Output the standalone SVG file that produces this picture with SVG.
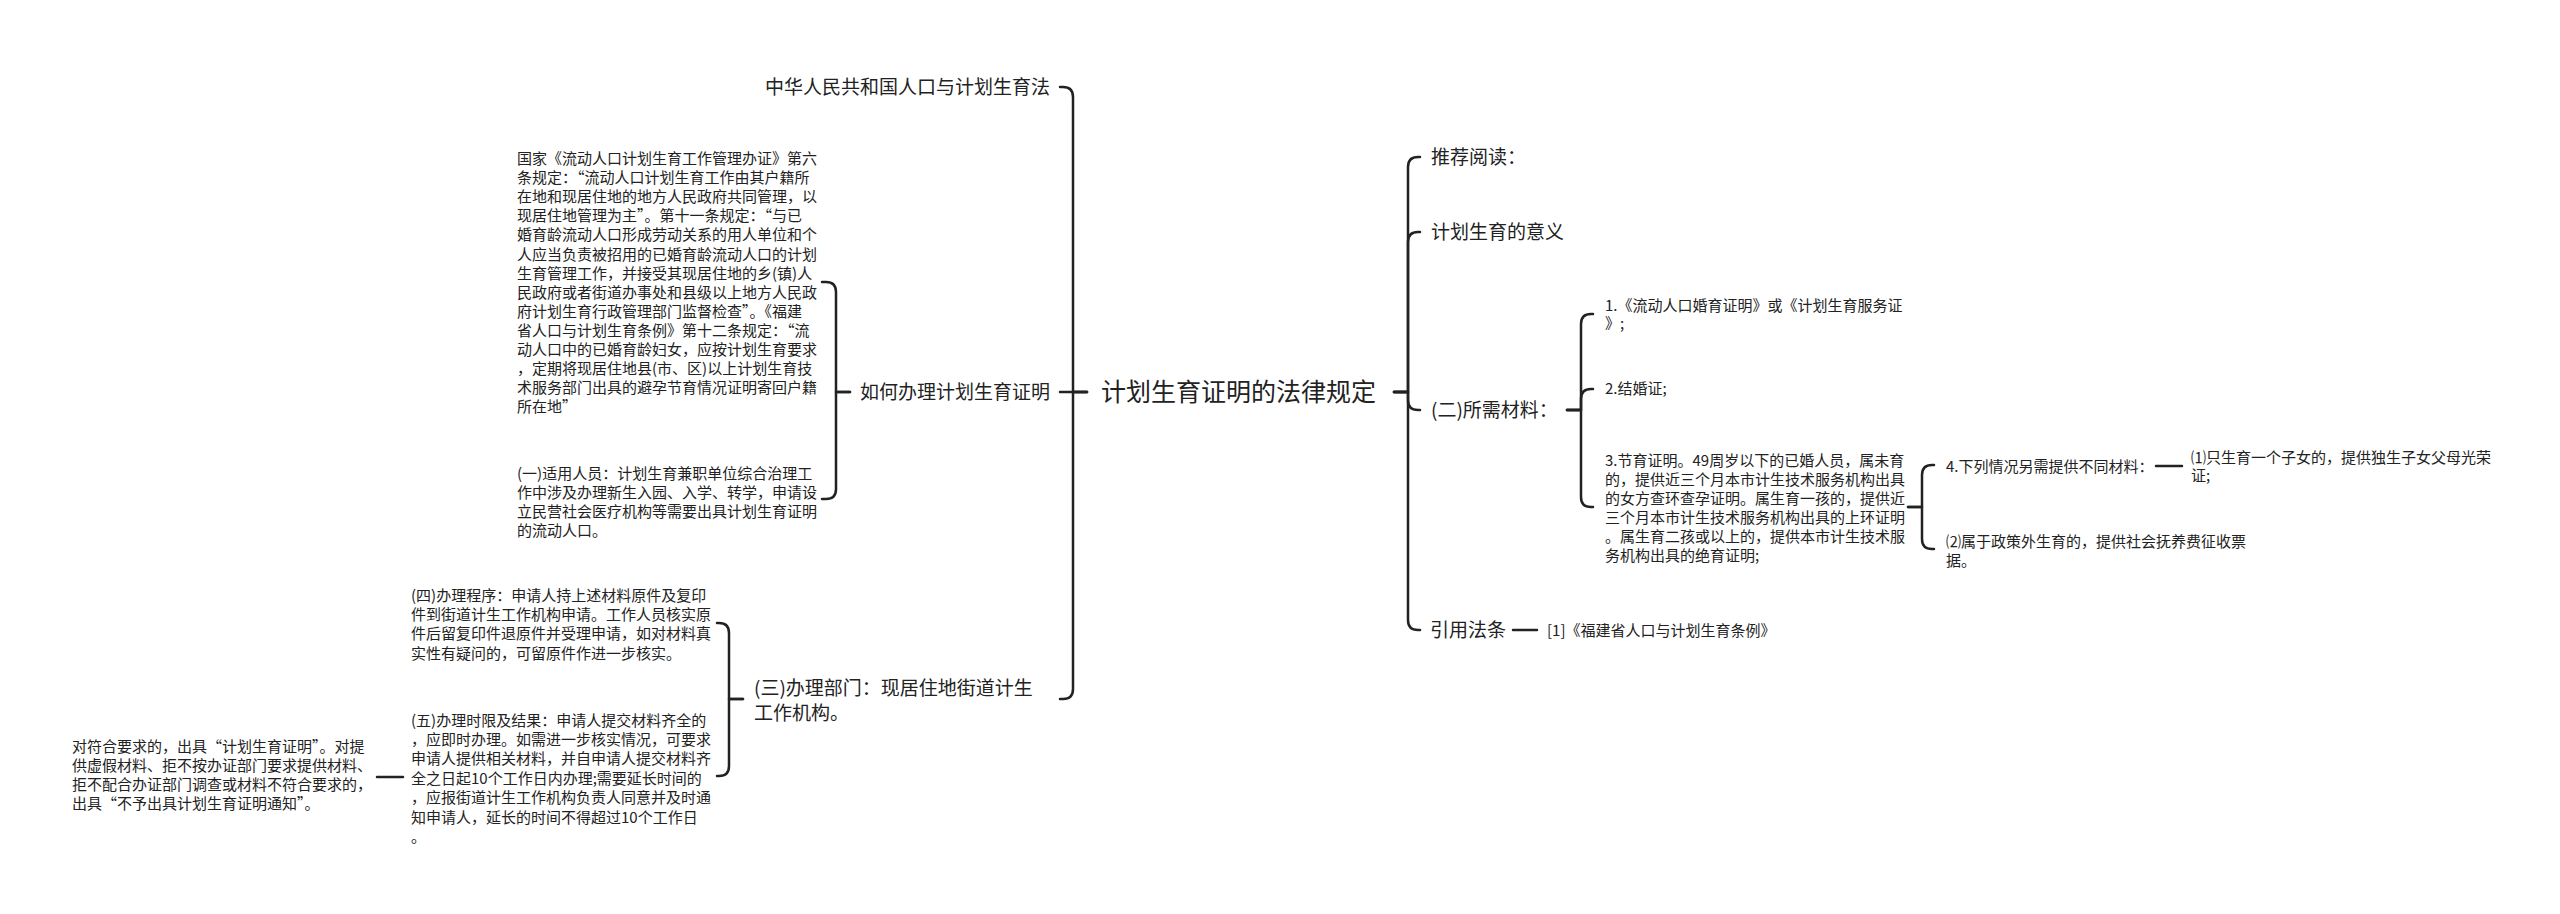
<svg xmlns="http://www.w3.org/2000/svg" width="2560" height="914" viewBox="0 0 2560 914">
<style>
text{font-family:"Noto Sans CJK SC","Noto Sans",sans-serif;fill:#222}
.s{font-size:15px}
.m{font-size:19px}
.r{font-size:25px}
.c{fill:none;stroke:#222;stroke-width:2.5;stroke-linecap:round;stroke-linejoin:round}
</style>
<rect width="2560" height="914" fill="#fff"/>
<g id="connectors" class="c">
<path d="M1087 392 H1073 V97 Q1073 87 1063 87 H1060"/>
<path d="M1087 392 H1060"/>
<path d="M1087 392 H1073 V689 Q1073 699 1063 699 H1060"/>
<path d="M1394 392 H1408 V167 Q1408 157 1418 157 H1420"/>
<path d="M1394 392 H1408 V242 Q1408 232 1418 232 H1420"/>
<path d="M1394 392 H1408 V400 Q1408 410 1418 410 H1420"/>
<path d="M1394 392 H1408 V620 Q1408 630 1418 630 H1420"/>
<path d="M850 392 H836 V292 Q836 282 826 282 H822"/>
<path d="M850 392 H836 V489 Q836 499 826 499 H822"/>
<path d="M743 699 H729 V633 Q729 623 719 623 H717"/>
<path d="M743 699 H729 V766 Q729 776 719 776 H717"/>
<path d="M403 777 H377"/>
<path d="M1567 410 H1581 V324 Q1581 314 1591 314 H1593"/>
<path d="M1567 410 H1581 V399 Q1581 389 1591 389 H1593"/>
<path d="M1567 410 H1581 V497 Q1581 507 1591 507 H1593"/>
<path d="M1908 507 H1922 V475 Q1922 465 1932 465 H1934"/>
<path d="M1908 507 H1922 V539 Q1922 549 1932 549 H1934"/>
<path d="M2156 466 H2182"/>
<path d="M1513 630 H1537"/>
</g>
<g id="root"><text class="r" x="1101" y="401">计划生育证明的法律规定</text></g>
<g id="n-law"><text class="m" x="1050" y="94" text-anchor="end">中华人民共和国人口与计划生育法</text></g>
<g id="n-how"><text class="m" x="1050" y="399" text-anchor="end">如何办理计划生育证明</text></g>
<g id="n-how-1"><text class="s" x="517" y="164">
<tspan x="517">国家《流动人口计划生育工作管理办证》第六</tspan>
<tspan x="517" dy="19.1">条规定：“流动人口计划生育工作由其户籍所</tspan>
<tspan x="517" dy="19.1">在地和现居住地的地方人民政府共同管理，以</tspan>
<tspan x="517" dy="19.1">现居住地管理为主”。第十一条规定：“与已</tspan>
<tspan x="517" dy="19.1">婚育龄流动人口形成劳动关系的用人单位和个</tspan>
<tspan x="517" dy="19.1">人应当负责被招用的已婚育龄流动人口的计划</tspan>
<tspan x="517" dy="19.1">生育管理工作，并接受其现居住地的乡(镇)人</tspan>
<tspan x="517" dy="19.1">民政府或者街道办事处和县级以上地方人民政</tspan>
<tspan x="517" dy="19.1">府计划生育行政管理部门监督检查”。《福建</tspan>
<tspan x="517" dy="19.1">省人口与计划生育条例》第十二条规定：“流</tspan>
<tspan x="517" dy="19.1">动人口中的已婚育龄妇女，应按计划生育要求</tspan>
<tspan x="517" dy="19.1">，定期将现居住地县(市、区)以上计划生育技</tspan>
<tspan x="517" dy="19.1">术服务部门出具的避孕节育情况证明寄回户籍</tspan>
<tspan x="517" dy="19.1">所在地”</tspan>
</text></g>
<g id="n-how-2"><text class="s" x="517" y="479">
<tspan x="517">(一)适用人员：计划生育兼职单位综合治理工</tspan>
<tspan x="517" dy="19">作中涉及办理新生入园、入学、转学，申请设</tspan>
<tspan x="517" dy="19">立民营社会医疗机构等需要出具计划生育证明</tspan>
<tspan x="517" dy="19">的流动人口。</tspan>
</text></g>
<g id="n-dept"><text class="m" x="754" y="695">
<tspan x="754">(三)办理部门：现居住地街道计生</tspan>
<tspan x="754" dy="25">工作机构。</tspan>
</text></g>
<g id="n-dept-1"><text class="s" x="411" y="600.5">
<tspan x="411">(四)办理程序：申请人持上述材料原件及复印</tspan>
<tspan x="411" dy="19.4">件到街道计生工作机构申请。工作人员核实原</tspan>
<tspan x="411" dy="19.4">件后留复印件退原件并受理申请，如对材料真</tspan>
<tspan x="411" dy="19.4">实性有疑问的，可留原件作进一步核实。</tspan>
</text></g>
<g id="n-dept-2"><text class="s" x="411" y="725.5">
<tspan x="411">(五)办理时限及结果：申请人提交材料齐全的</tspan>
<tspan x="411" dy="19.45">，应即时办理。如需进一步核实情况，可要求</tspan>
<tspan x="411" dy="19.45">申请人提供相关材料，并自申请人提交材料齐</tspan>
<tspan x="411" dy="19.45">全之日起10个工作日内办理;需要延长时间的</tspan>
<tspan x="411" dy="19.45">，应报街道计生工作机构负责人同意并及时通</tspan>
<tspan x="411" dy="19.45">知申请人，延长的时间不得超过10个工作日</tspan>
<tspan x="411" dy="19.45">。</tspan>
</text></g>
<g id="n-result"><text class="s" x="72" y="751.5">
<tspan x="72">对符合要求的，出具“计划生育证明”。对提</tspan>
<tspan x="72" dy="19.2">供虚假材料、拒不按办证部门要求提供材料、</tspan>
<tspan x="72" dy="19.2">拒不配合办证部门调查或材料不符合要求的，</tspan>
<tspan x="72" dy="19.2">出具“不予出具计划生育证明通知”。</tspan>
</text></g>
<g id="n-read"><text class="m" x="1431" y="164">推荐阅读：</text></g>
<g id="n-meaning"><text class="m" x="1431" y="239">计划生育的意义</text></g>
<g id="n-material"><text class="m" x="1431" y="417">(二)所需材料：</text></g>
<g id="n-mat-1"><text class="s" x="1605" y="310.5">
<tspan x="1605">1.《流动人口婚育证明》或《计划生育服务证</tspan>
<tspan x="1605" dy="18.5">》;</tspan>
</text></g>
<g id="n-mat-2"><text class="s" x="1605" y="394">2.结婚证;</text></g>
<g id="n-mat-3"><text class="s" x="1605" y="465.5">
<tspan x="1605">3.节育证明。49周岁以下的已婚人员，属未育</tspan>
<tspan x="1605" dy="19">的，提供近三个月本市计生技术服务机构出具</tspan>
<tspan x="1605" dy="19">的女方查环查孕证明。属生育一孩的，提供近</tspan>
<tspan x="1605" dy="19">三个月本市计生技术服务机构出具的上环证明</tspan>
<tspan x="1605" dy="19">。属生育二孩或以上的，提供本市计生技术服</tspan>
<tspan x="1605" dy="19">务机构出具的绝育证明;</tspan>
</text></g>
<g id="n-mat-4"><text class="s" x="1946" y="471.5">4.下列情况另需提供不同材料：</text></g>
<g id="n-mat-4-1"><text class="s" x="2191" y="462.5">
<tspan x="2191">⑴只生育一个子女的，提供独生子女父母光荣</tspan>
<tspan x="2191" dy="18.5">证;</tspan>
</text></g>
<g id="n-mat-4-2"><text class="s" x="1946" y="547">
<tspan x="1946">⑵属于政策外生育的，提供社会抚养费征收票</tspan>
<tspan x="1946" dy="19">据。</tspan>
</text></g>
<g id="n-cite"><text class="m" x="1430" y="637">引用法条</text></g>
<g id="n-cite-1"><text class="s" x="1547" y="635.5">[1]《福建省人口与计划生育条例》</text></g>
</svg>
